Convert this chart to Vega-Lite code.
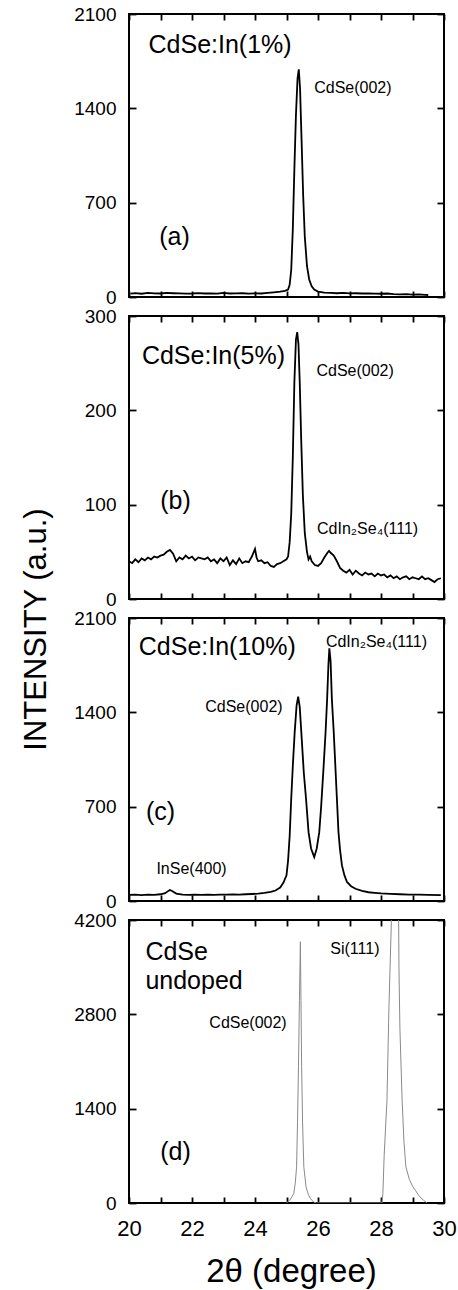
{
  "$schema": "https://vega.github.io/schema/vega-lite/v6.json",
  "background": "white",
  "padding": {"left": 18, "top": 4, "right": 0, "bottom": 0},
  "spacing": 19,
  "bounds": "flush",
  "config": {
    "font": "Liberation Sans",
    "view": {"stroke": "black", "strokeWidth": 2},
    "axis": {"domain": false, "grid": false, "tickColor": "black", "tickWidth": 1.8, "labelColor": "black", "labelFont": "Liberation Sans", "labelFontSize": 19, "titleFont": "Liberation Sans", "titleFontWeight": "normal", "titleColor": "black", "labelFlush": false, "labelOverlap": false, "format": "d"},
    "axisX": {"tickSize": -6, "labelFontSize": 22, "labelPadding": 21},
    "axisY": {"tickSize": -7, "labelPadding": 20},
    "text": {"font": "Liberation Sans", "color": "black"}
  },
  "datasets": {
    "curves": [
      {"p":"a","x":20.05,"y":25},{"p":"a","x":20.2,"y":28},{"p":"a","x":20.4,"y":24},{"p":"a","x":20.6,"y":30},{"p":"a","x":20.8,"y":27},{"p":"a","x":21.0,"y":26},{"p":"a","x":21.2,"y":30},{"p":"a","x":21.4,"y":28},{"p":"a","x":21.6,"y":27},{"p":"a","x":21.8,"y":25},{"p":"a","x":22.0,"y":26},{"p":"a","x":22.2,"y":29},{"p":"a","x":22.4,"y":26},{"p":"a","x":22.6,"y":27},{"p":"a","x":22.8,"y":25},{"p":"a","x":23.0,"y":30},{"p":"a","x":23.2,"y":26},{"p":"a","x":23.4,"y":27},{"p":"a","x":23.6,"y":28},{"p":"a","x":23.8,"y":25},{"p":"a","x":24.0,"y":27},{"p":"a","x":24.2,"y":26},{"p":"a","x":24.4,"y":30},{"p":"a","x":24.6,"y":35},{"p":"a","x":24.8,"y":40},{"p":"a","x":24.95,"y":45},{"p":"a","x":25.05,"y":55},{"p":"a","x":25.1,"y":90},{"p":"a","x":25.15,"y":200},{"p":"a","x":25.2,"y":500},{"p":"a","x":25.25,"y":950},{"p":"a","x":25.3,"y":1350},{"p":"a","x":25.35,"y":1620},{"p":"a","x":25.39,"y":1690},{"p":"a","x":25.43,"y":1550},{"p":"a","x":25.48,"y":1150},{"p":"a","x":25.53,"y":750},{"p":"a","x":25.58,"y":450},{"p":"a","x":25.65,"y":230},{"p":"a","x":25.72,"y":130},{"p":"a","x":25.8,"y":80},{"p":"a","x":25.88,"y":55},{"p":"a","x":26.0,"y":40},{"p":"a","x":26.2,"y":32},{"p":"a","x":26.4,"y":30},{"p":"a","x":26.6,"y":28},{"p":"a","x":26.8,"y":30},{"p":"a","x":27.0,"y":27},{"p":"a","x":27.2,"y":28},{"p":"a","x":27.4,"y":26},{"p":"a","x":27.6,"y":27},{"p":"a","x":27.8,"y":25},{"p":"a","x":28.0,"y":24},{"p":"a","x":28.2,"y":26},{"p":"a","x":28.4,"y":22},{"p":"a","x":28.6,"y":20},{"p":"a","x":28.8,"y":22},{"p":"a","x":29.0,"y":18},{"p":"a","x":29.2,"y":20},{"p":"a","x":29.4,"y":16},{"p":"a","x":29.5,"y":15},

      {"p":"b","x":20.0,"y":40},{"p":"b","x":20.1,"y":38},{"p":"b","x":20.2,"y":42},{"p":"b","x":20.3,"y":39},{"p":"b","x":20.4,"y":43},{"p":"b","x":20.5,"y":41},{"p":"b","x":20.6,"y":44},{"p":"b","x":20.7,"y":42},{"p":"b","x":20.8,"y":45},{"p":"b","x":20.9,"y":44},{"p":"b","x":21.0,"y":46},{"p":"b","x":21.1,"y":47},{"p":"b","x":21.2,"y":50},{"p":"b","x":21.3,"y":52},{"p":"b","x":21.4,"y":48},{"p":"b","x":21.5,"y":40},{"p":"b","x":21.6,"y":44},{"p":"b","x":21.7,"y":42},{"p":"b","x":21.8,"y":46},{"p":"b","x":21.9,"y":43},{"p":"b","x":22.0,"y":45},{"p":"b","x":22.1,"y":41},{"p":"b","x":22.2,"y":44},{"p":"b","x":22.3,"y":43},{"p":"b","x":22.4,"y":42},{"p":"b","x":22.5,"y":44},{"p":"b","x":22.6,"y":40},{"p":"b","x":22.7,"y":42},{"p":"b","x":22.8,"y":38},{"p":"b","x":22.9,"y":43},{"p":"b","x":23.0,"y":40},{"p":"b","x":23.1,"y":44},{"p":"b","x":23.2,"y":36},{"p":"b","x":23.3,"y":41},{"p":"b","x":23.4,"y":37},{"p":"b","x":23.5,"y":43},{"p":"b","x":23.6,"y":38},{"p":"b","x":23.7,"y":40},{"p":"b","x":23.8,"y":39},{"p":"b","x":23.9,"y":45},{"p":"b","x":24.0,"y":53},{"p":"b","x":24.05,"y":44},{"p":"b","x":24.1,"y":40},{"p":"b","x":24.2,"y":41},{"p":"b","x":24.3,"y":38},{"p":"b","x":24.4,"y":39},{"p":"b","x":24.5,"y":35},{"p":"b","x":24.6,"y":34},{"p":"b","x":24.7,"y":37},{"p":"b","x":24.8,"y":38},{"p":"b","x":24.9,"y":40},{"p":"b","x":25.0,"y":42},{"p":"b","x":25.05,"y":45},{"p":"b","x":25.1,"y":60},{"p":"b","x":25.15,"y":90},{"p":"b","x":25.2,"y":150},{"p":"b","x":25.25,"y":230},{"p":"b","x":25.3,"y":275},{"p":"b","x":25.34,"y":283},{"p":"b","x":25.38,"y":270},{"p":"b","x":25.42,"y":230},{"p":"b","x":25.47,"y":165},{"p":"b","x":25.52,"y":110},{"p":"b","x":25.58,"y":70},{"p":"b","x":25.65,"y":50},{"p":"b","x":25.7,"y":42},{"p":"b","x":25.75,"y":45},{"p":"b","x":25.8,"y":40},{"p":"b","x":25.9,"y":36},{"p":"b","x":26.0,"y":35},{"p":"b","x":26.1,"y":38},{"p":"b","x":26.2,"y":44},{"p":"b","x":26.3,"y":49},{"p":"b","x":26.35,"y":51},{"p":"b","x":26.4,"y":49},{"p":"b","x":26.5,"y":46},{"p":"b","x":26.6,"y":40},{"p":"b","x":26.7,"y":33},{"p":"b","x":26.8,"y":30},{"p":"b","x":26.9,"y":28},{"p":"b","x":27.0,"y":31},{"p":"b","x":27.1,"y":26},{"p":"b","x":27.2,"y":30},{"p":"b","x":27.3,"y":27},{"p":"b","x":27.4,"y":25},{"p":"b","x":27.5,"y":28},{"p":"b","x":27.6,"y":26},{"p":"b","x":27.7,"y":27},{"p":"b","x":27.8,"y":24},{"p":"b","x":27.9,"y":27},{"p":"b","x":28.0,"y":25},{"p":"b","x":28.1,"y":26},{"p":"b","x":28.2,"y":23},{"p":"b","x":28.3,"y":25},{"p":"b","x":28.4,"y":22},{"p":"b","x":28.5,"y":24},{"p":"b","x":28.6,"y":21},{"p":"b","x":28.7,"y":23},{"p":"b","x":28.8,"y":24},{"p":"b","x":28.9,"y":21},{"p":"b","x":29.0,"y":23},{"p":"b","x":29.1,"y":22},{"p":"b","x":29.2,"y":21},{"p":"b","x":29.3,"y":24},{"p":"b","x":29.4,"y":21},{"p":"b","x":29.5,"y":22},{"p":"b","x":29.6,"y":20},{"p":"b","x":29.7,"y":18},{"p":"b","x":29.8,"y":21},{"p":"b","x":29.9,"y":22},

      {"p":"c","x":20.0,"y":45},{"p":"c","x":20.2,"y":47},{"p":"c","x":20.4,"y":44},{"p":"c","x":20.6,"y":48},{"p":"c","x":20.8,"y":46},{"p":"c","x":21.0,"y":50},{"p":"c","x":21.15,"y":58},{"p":"c","x":21.25,"y":75},{"p":"c","x":21.3,"y":82},{"p":"c","x":21.38,"y":72},{"p":"c","x":21.5,"y":55},{"p":"c","x":21.7,"y":48},{"p":"c","x":21.9,"y":46},{"p":"c","x":22.1,"y":48},{"p":"c","x":22.3,"y":45},{"p":"c","x":22.5,"y":47},{"p":"c","x":22.7,"y":46},{"p":"c","x":22.9,"y":48},{"p":"c","x":23.1,"y":47},{"p":"c","x":23.3,"y":49},{"p":"c","x":23.5,"y":48},{"p":"c","x":23.7,"y":50},{"p":"c","x":23.9,"y":52},{"p":"c","x":24.1,"y":55},{"p":"c","x":24.3,"y":60},{"p":"c","x":24.5,"y":67},{"p":"c","x":24.65,"y":78},{"p":"c","x":24.8,"y":100},{"p":"c","x":24.9,"y":135},{"p":"c","x":25.0,"y":190},{"p":"c","x":25.05,"y":300},{"p":"c","x":25.1,"y":480},{"p":"c","x":25.15,"y":759},{"p":"c","x":25.2,"y":1000},{"p":"c","x":25.26,"y":1253},{"p":"c","x":25.32,"y":1450},{"p":"c","x":25.37,"y":1517},{"p":"c","x":25.42,"y":1440},{"p":"c","x":25.47,"y":1253},{"p":"c","x":25.55,"y":950},{"p":"c","x":25.62,"y":759},{"p":"c","x":25.7,"y":511},{"p":"c","x":25.78,"y":390},{"p":"c","x":25.88,"y":326},{"p":"c","x":25.96,"y":390},{"p":"c","x":26.04,"y":511},{"p":"c","x":26.1,"y":700},{"p":"c","x":26.18,"y":1006},{"p":"c","x":26.24,"y":1250},{"p":"c","x":26.29,"y":1500},{"p":"c","x":26.33,"y":1750},{"p":"c","x":26.36,"y":1875},{"p":"c","x":26.4,"y":1780},{"p":"c","x":26.44,"y":1500},{"p":"c","x":26.5,"y":1250},{"p":"c","x":26.55,"y":1006},{"p":"c","x":26.6,"y":760},{"p":"c","x":26.65,"y":511},{"p":"c","x":26.7,"y":380},{"p":"c","x":26.76,"y":264},{"p":"c","x":26.84,"y":190},{"p":"c","x":26.92,"y":141},{"p":"c","x":27.05,"y":110},{"p":"c","x":27.19,"y":91},{"p":"c","x":27.4,"y":75},{"p":"c","x":27.6,"y":65},{"p":"c","x":27.8,"y":60},{"p":"c","x":28.0,"y":56},{"p":"c","x":28.3,"y":53},{"p":"c","x":28.6,"y":50},{"p":"c","x":28.9,"y":48},{"p":"c","x":29.2,"y":47},{"p":"c","x":29.5,"y":45},{"p":"c","x":29.9,"y":43},

      {"p":"d","x":25.0,"y":0},{"p":"d","x":25.1,"y":40},{"p":"d","x":25.17,"y":90},{"p":"d","x":25.23,"y":139},{"p":"d","x":25.28,"y":300},{"p":"d","x":25.32,"y":537},{"p":"d","x":25.35,"y":1200},{"p":"d","x":25.38,"y":2028},{"p":"d","x":25.41,"y":3000},{"p":"d","x":25.44,"y":3877},{"p":"d","x":25.46,"y":3000},{"p":"d","x":25.48,"y":2028},{"p":"d","x":25.51,"y":1200},{"p":"d","x":25.55,"y":537},{"p":"d","x":25.62,"y":239},{"p":"d","x":25.69,"y":130},{"p":"d","x":25.76,"y":65},{"p":"d","x":25.86,"y":15},{"p":"d","x":25.95,"y":0},{"p":"d","x":28.0,"y":0},{"p":"d","x":28.03,"y":0},{"p":"d","x":28.06,"y":140},{"p":"d","x":28.1,"y":700},{"p":"d","x":28.19,"y":1530},{"p":"d","x":28.25,"y":2870},{"p":"d","x":28.33,"y":4200},{"p":"d","x":28.4,"y":5200},{"p":"d","x":28.45,"y":5400},{"p":"d","x":28.5,"y":5200},{"p":"d","x":28.56,"y":4200},{"p":"d","x":28.57,"y":3500},{"p":"d","x":28.6,"y":2600},{"p":"d","x":28.67,"y":1530},{"p":"d","x":28.73,"y":900},{"p":"d","x":28.79,"y":537},{"p":"d","x":28.9,"y":350},{"p":"d","x":29.0,"y":250},{"p":"d","x":29.09,"y":189},{"p":"d","x":29.2,"y":110},{"p":"d","x":29.35,"y":40},{"p":"d","x":29.45,"y":5}
    ],
    "names": [
      {"p":"a","x":20.62,"y":1867,"t":"CdSe:In(1%)"},
      {"p":"a","x":20.96,"y":445,"t":"(a)"},
      {"p":"b","x":20.41,"y":258,"t":"CdSe:In(5%)"},
      {"p":"b","x":20.99,"y":104,"t":"(b)"},
      {"p":"c","x":20.31,"y":1883,"t":"CdSe:In(10%)"},
      {"p":"c","x":20.54,"y":660,"t":"(c)"},
      {"p":"d","x":20.52,"y":3718,"t":"CdSe"},
      {"p":"d","x":20.52,"y":3295,"t":"undoped"},
      {"p":"d","x":20.99,"y":760,"t":"(d)"}
    ],
    "peaks": [
      {"p":"a","x":25.88,"y":1551,"t":"CdSe(002)"},
      {"p":"b","x":25.95,"y":242,"t":"CdSe(002)"},
      {"p":"b","x":25.97,"y":74,"t":"CdIn₂Se₄(111)"},
      {"p":"c","x":26.25,"y":1920,"t":"CdIn₂Se₄(111)"},
      {"p":"c","x":22.42,"y":1438,"t":"CdSe(002)"},
      {"p":"c","x":20.87,"y":240,"t":"InSe(400)"},
      {"p":"d","x":26.39,"y":3768,"t":"Si(111)"},
      {"p":"d","x":22.55,"y":2675,"t":"CdSe(002)"}
    ]
  },
  "vconcat": [
    {
      "width": 315, "height": 283,
      "layer": [
        {"data": {"name": "curves"}, "transform": [{"filter": "datum.p == 'a'"}],
         "mark": {"type": "line", "color": "black", "strokeWidth": 1.8, "clip": true},
         "encoding": {
           "x": {"field": "x", "type": "quantitative", "scale": {"domain": [20, 30], "nice": false}, "axis": {"values": [20,21,22,23,24,25,26,27,28,29,30], "labels": false, "title": null}},
           "y": {"field": "y", "type": "quantitative", "scale": {"domain": [0, 2100], "nice": false}, "axis": {"values": [0,700,1400,2100], "title": null}}
         }},
        {"data": {"name": "names"}, "transform": [{"filter": "datum.p == 'a'"}],
         "mark": {"type": "text", "align": "left", "baseline": "middle", "fontSize": 25},
         "encoding": {
           "x": {"field": "x", "type": "quantitative", "axis": {"orient": "top", "values": [20,21,22,23,24,25,26,27,28,29,30], "labels": false, "title": null}},
           "y": {"field": "y", "type": "quantitative", "axis": {"orient": "right", "values": [0,700,1400,2100], "labels": false, "title": null}},
           "text": {"field": "t"}
         }},
        {"data": {"name": "peaks"}, "transform": [{"filter": "datum.p == 'a'"}],
         "mark": {"type": "text", "align": "left", "baseline": "middle", "fontSize": 16},
         "encoding": {
           "x": {"field": "x", "type": "quantitative", "axis": null},
           "y": {"field": "y", "type": "quantitative", "axis": null},
           "text": {"field": "t"}
         }}
      ],
      "resolve": {"axis": {"x": "independent", "y": "independent"}}
    },
    {
      "width": 315, "height": 283,
      "layer": [
        {"data": {"name": "curves"}, "transform": [{"filter": "datum.p == 'b'"}],
         "mark": {"type": "line", "color": "black", "strokeWidth": 1.8, "clip": true},
         "encoding": {
           "x": {"field": "x", "type": "quantitative", "scale": {"domain": [20, 30], "nice": false}, "axis": {"values": [20,21,22,23,24,25,26,27,28,29,30], "labels": false, "title": null}},
           "y": {"field": "y", "type": "quantitative", "scale": {"domain": [0, 300], "nice": false}, "axis": {"values": [0,100,200,300], "title": null}}
         }},
        {"data": {"name": "names"}, "transform": [{"filter": "datum.p == 'b'"}],
         "mark": {"type": "text", "align": "left", "baseline": "middle", "fontSize": 25},
         "encoding": {
           "x": {"field": "x", "type": "quantitative", "axis": {"orient": "top", "values": [20,21,22,23,24,25,26,27,28,29,30], "labels": false, "title": null}},
           "y": {"field": "y", "type": "quantitative", "axis": {"orient": "right", "values": [0,100,200,300], "labels": false, "title": null}},
           "text": {"field": "t"}
         }},
        {"data": {"name": "peaks"}, "transform": [{"filter": "datum.p == 'b'"}],
         "mark": {"type": "text", "align": "left", "baseline": "middle", "fontSize": 16},
         "encoding": {
           "x": {"field": "x", "type": "quantitative", "axis": null},
           "y": {"field": "y", "type": "quantitative", "axis": null},
           "text": {"field": "t"}
         }}
      ],
      "resolve": {"axis": {"x": "independent", "y": "independent"}}
    },
    {
      "width": 315, "height": 283,
      "layer": [
        {"data": {"name": "curves"}, "transform": [{"filter": "datum.p == 'c'"}],
         "mark": {"type": "line", "color": "black", "strokeWidth": 1.8, "clip": true},
         "encoding": {
           "x": {"field": "x", "type": "quantitative", "scale": {"domain": [20, 30], "nice": false}, "axis": {"values": [20,21,22,23,24,25,26,27,28,29,30], "labels": false, "title": null}},
           "y": {"field": "y", "type": "quantitative", "scale": {"domain": [0, 2100], "nice": false}, "axis": {"values": [0,700,1400,2100], "title": "INTENSITY (a.u.)", "titleFontSize": 31, "titleX": -93, "titleY": 11, "titleBaseline": "middle", "titleAngle": 270}}
         }},
        {"data": {"name": "names"}, "transform": [{"filter": "datum.p == 'c'"}],
         "mark": {"type": "text", "align": "left", "baseline": "middle", "fontSize": 25},
         "encoding": {
           "x": {"field": "x", "type": "quantitative", "axis": {"orient": "top", "values": [20,21,22,23,24,25,26,27,28,29,30], "labels": false, "title": null}},
           "y": {"field": "y", "type": "quantitative", "axis": {"orient": "right", "values": [0,700,1400,2100], "labels": false, "title": null}},
           "text": {"field": "t"}
         }},
        {"data": {"name": "peaks"}, "transform": [{"filter": "datum.p == 'c'"}],
         "mark": {"type": "text", "align": "left", "baseline": "middle", "fontSize": 16},
         "encoding": {
           "x": {"field": "x", "type": "quantitative", "axis": null},
           "y": {"field": "y", "type": "quantitative", "axis": null},
           "text": {"field": "t"}
         }}
      ],
      "resolve": {"axis": {"x": "independent", "y": "independent"}}
    },
    {
      "width": 315, "height": 283,
      "layer": [
        {"data": {"name": "curves"}, "transform": [{"filter": "datum.p == 'd'"}],
         "mark": {"type": "line", "color": "#8a8a8a", "strokeWidth": 1, "clip": true},
         "encoding": {
           "x": {"field": "x", "type": "quantitative", "scale": {"domain": [20, 30], "nice": false}, "axis": {"values": [20,21,22,23,24,25,26,27,28,29,30], "labelExpr": "datum.value % 2 === 0 ? datum.label : ''", "title": "2θ (degree)", "titleFontSize": 33, "titleX": 162, "titleY": 78, "titleBaseline": "alphabetic"}},
           "y": {"field": "y", "type": "quantitative", "scale": {"domain": [0, 4200], "nice": false}, "axis": {"values": [0,1400,2800,4200], "title": null}}
         }},
        {"data": {"name": "names"}, "transform": [{"filter": "datum.p == 'd'"}],
         "mark": {"type": "text", "align": "left", "baseline": "middle", "fontSize": 25},
         "encoding": {
           "x": {"field": "x", "type": "quantitative", "axis": {"orient": "top", "values": [20,21,22,23,24,25,26,27,28,29,30], "labels": false, "title": null}},
           "y": {"field": "y", "type": "quantitative", "axis": {"orient": "right", "values": [0,1400,2800,4200], "labels": false, "title": null}},
           "text": {"field": "t"}
         }},
        {"data": {"name": "peaks"}, "transform": [{"filter": "datum.p == 'd'"}],
         "mark": {"type": "text", "align": "left", "baseline": "middle", "fontSize": 16},
         "encoding": {
           "x": {"field": "x", "type": "quantitative", "axis": null},
           "y": {"field": "y", "type": "quantitative", "axis": null},
           "text": {"field": "t"}
         }}
      ],
      "resolve": {"axis": {"x": "independent", "y": "independent"}}
    }
  ]
}
